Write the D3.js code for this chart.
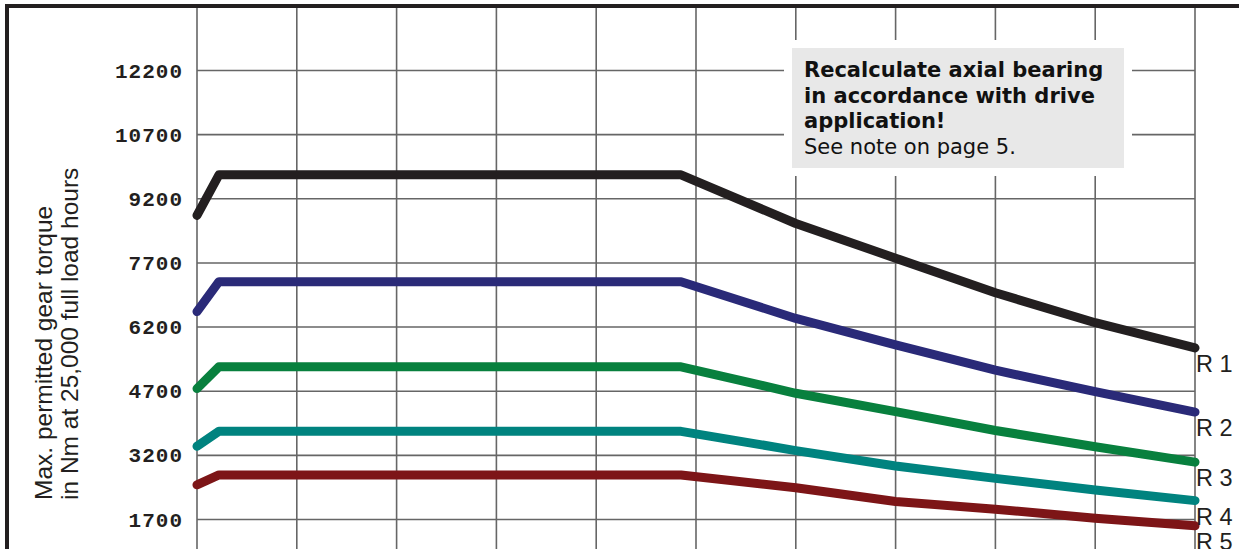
<!DOCTYPE html>
<html>
<head>
<meta charset="utf-8">
<script src="https://cdn.jsdelivr.net/npm/d3@7"></script>
<style>
  html, body { margin: 0; padding: 0; background: #fff; }
  svg { display: block; }
</style>
</head>
<body>
<svg id="chart" width="1239" height="549"></svg>
<script>
// Torque ratings for the five gear ratios over the speed grid
const gridSteps = d3.range(0, 11);
const xPoints = [0, 0.22, 4.85, 6, 7, 8, 9, 10];
const yTicks = [1700, 3200, 4700, 6200, 7700, 9200, 10700, 12200];
const seriesNames = ["R 1", "R 2", "R 3", "R 4", "R 5"];
const r1 = [8800, 9750, 9750, 8610, 7800, 6990, 6290, 5700];
const r2 = [6550, 7250, 7250, 6390, 5770, 5180, 4680, 4200];
const r3 = [4750, 5260, 5260, 4640, 4210, 3770, 3390, 3030];
const r4 = [3400, 3750, 3750, 3300, 2940, 2650, 2380, 2130];
const r5 = [2500, 2730, 2730, 2430, 2110, 1930, 1720, 1540];
const seriesColors = ["#231f20", "#2a2a78", "#08803e", "#00837f", "#7d1517"];
const titleLines = ["Max. permitted gear torque", "in Nm at 25,000 full load hours"];
const noteBold = ["Recalculate axial bearing", "in accordance with drive", "application!"];
const noteRegular = "See note on page 5.";

const series = [r1, r2, r3, r4, r5].map((vals, i) => ({
  name: seriesNames[i],
  color: seriesColors[i],
  points: vals.map((v, j) => [xPoints[j], v])
}));

const svg = d3.select("#chart");
const ink = "#231f20";

const x = d3.scaleLinear().domain([0, 10]).range([197, 1195]);
const y = d3.scaleLinear().domain([1700, 12200]).range([519, 70]);

// vertical grid
svg.append("g")
  .selectAll("line")
  .data(gridSteps)
  .join("line")
  .attr("x1", d => x(d)).attr("x2", d => x(d))
  .attr("y1", 6).attr("y2", 549)
  .attr("stroke", "#666").attr("stroke-width", 1.6);

// horizontal grid with value labels
const yAxis = d3.axisLeft(y)
  .tickValues(yTicks)
  .tickSize(-(x(10) - x(0)))
  .tickPadding(14)
  .tickFormat(d3.format("d"));

const yg = svg.append("g")
  .attr("transform", `translate(${x(0)},0)`)
  .call(yAxis);
yg.select(".domain").remove();
yg.selectAll(".tick line").attr("stroke", "#666").attr("stroke-width", 1.6);
yg.selectAll(".tick text")
  .attr("fill", ink)
  .attr("font-family", "'Liberation Mono', 'DejaVu Sans Mono', monospace")
  .attr("font-weight", "bold")
  .attr("font-size", 21)
  .attr("letter-spacing", 1)
  .attr("dy", "0.34em");

// note panel (white margin interrupts the grid)
const note = svg.append("g");
note.append("rect").attr("x", 784).attr("y", 40).attr("width", 348).attr("height", 136).attr("fill", "#fff");
note.append("rect").attr("x", 792).attr("y", 48).attr("width", 332).attr("height", 120).attr("fill", "#e8e8e8");
const noteText = note.append("text")
  .attr("font-family", "'DejaVu Sans', Verdana, sans-serif")
  .attr("font-size", 21)
  .attr("fill", "#111");
noteBold.forEach((t, i) => {
  noteText.append("tspan").attr("x", 804).attr("y", 77 + i * 25.5)
    .attr("font-weight", "bold").text(t);
});
noteText.append("tspan").attr("x", 804).attr("y", 77 + 3 * 25.7).text(noteRegular);

// curves
const line = d3.line().x(d => x(d[0])).y(d => y(d[1]));
svg.append("g")
  .selectAll("path")
  .data(series)
  .join("path")
  .attr("d", d => line(d.points))
  .attr("fill", "none")
  .attr("stroke", d => d.color)
  .attr("stroke-width", 9)
  .attr("stroke-linecap", "round")
  .attr("stroke-linejoin", "round");

// series labels at the curve ends
svg.append("g")
  .selectAll("text")
  .data(series)
  .join("text")
  .attr("x", d => x(d.points[d.points.length - 1][0]) + 1)
  .attr("y", d => y(d.points[d.points.length - 1][1]) + 24)
  .attr("font-family", "'Liberation Sans', Arial, sans-serif")
  .attr("font-size", 23.5)
  .attr("fill", ink)
  .text(d => d.name);

// axis title
svg.append("g")
  .selectAll("text")
  .data(titleLines)
  .join("text")
  .attr("transform", (d, i) => `translate(${52 + i * 26},500) rotate(-90)`)
  .attr("font-family", "'Liberation Sans', Arial, sans-serif")
  .attr("font-size", 24.5)
  .attr("fill", ink)
  .text(d => d);

// frame on top and left
svg.append("line").attr("x1", 5).attr("x2", 1239).attr("y1", 6).attr("y2", 6)
  .attr("stroke", ink).attr("stroke-width", 4);
svg.append("line").attr("x1", 7).attr("x2", 7).attr("y1", 4).attr("y2", 549)
  .attr("stroke", ink).attr("stroke-width", 4);
</script>
</body>
</html>
